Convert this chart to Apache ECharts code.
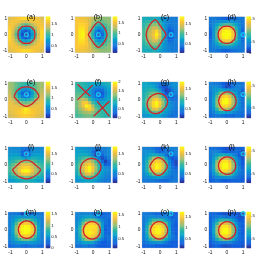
<!DOCTYPE html>
<html><head><meta charset="utf-8">
<style>html,body{margin:0;padding:0;background:#fff}#c{width:257px;height:263px;filter:blur(0.55px)}</style>
<script src="https://cdn.jsdelivr.net/npm/echarts@6/dist/echarts.min.js"></script>
</head><body><div id="c"></div>
<script>
const panelLabels=['(a)','(b)','(c)','(d)','(e)','(f)','(g)','(h)','(i)','(j)','(k)','(l)','(m)','(n)','(o)','(p)'];
const tickValues=[-1,0,1];
const colorRanges=[[.2,1.85],[.08,1.77],[.03,1.85],[0,1.6],[.1,1.75],[0,2],[.05,1.85],[.03,1.7],[.05,1.85],[.05,1.85],[.05,1.85],[.1,1.7],[0,1.6],[.1,1.64],[.08,1.74],[.1,1.68]];
const colorTicks=[[.5,1,1.5],[.5,1,1.5],[.5,1,1.5],[0,.5,1,1.5],[.5,1,1.5],[0,.5,1,1.5,2],[.5,1,1.5],[.5,1,1.5],[.5,1,1.5],[.5,1,1.5],[.5,1,1.5],[.5,1,1.5],[0,.5,1,1.5],[.5,1,1.5],[.5,1,1.5],[.5,1,1.5]];
const markers=[[0,0],[.33,0],[.67,0],[1,0],[0,.33],[.33,.33],[.67,.33],[1,.33],[0,.67],[.33,.67],[.67,.67],[1,.67],[0,1],[.33,1],[.67,1],[1,1]];

const fieldA=[[1.5,1.55,1.6,1.65,1.7,1.7,1.7,1.65,1.6,1.55,1.5],[1.55,1.6,1.6,1.55,1.5,1.45,1.5,1.55,1.6,1.6,1.55],[1.6,1.6,1.5,1.35,1.2,1.1,1.2,1.35,1.5,1.6,1.6],[1.65,1.55,1.35,1.1,.85,.75,.85,1.1,1.35,1.55,1.65],[1.7,1.5,1.2,.85,.5,.35,.5,.85,1.2,1.5,1.7],[1.7,1.45,1.1,.75,.35,.2,.35,.75,1.1,1.45,1.7],[1.7,1.5,1.2,.85,.5,.35,.5,.85,1.2,1.5,1.7],[1.65,1.55,1.35,1.1,.85,.75,.85,1.1,1.35,1.55,1.65],[1.6,1.6,1.5,1.35,1.2,1.1,1.2,1.35,1.5,1.6,1.6],[1.55,1.6,1.6,1.55,1.5,1.45,1.5,1.55,1.6,1.6,1.55],[1.5,1.55,1.6,1.65,1.7,1.7,1.7,1.65,1.6,1.55,1.5]];
const fieldB=[[1.5,1.5,1.5,1.45,1.4,1.3,1.25,1.2,1.15,1.15,1.15],[1.55,1.55,1.55,1.5,1.4,1.25,1.1,1.05,1.05,1.1,1.15],[1.55,1.6,1.6,1.55,1.4,1.15,.95,.85,.9,1,1.1],[1.55,1.65,1.65,1.55,1.3,1.05,.75,.6,.7,.9,1.05],[1.55,1.7,1.72,1.55,1.25,.9,.5,.3,.5,.8,1.05],[1.55,1.7,1.77,1.55,1.2,.85,.35,.12,.35,.75,1.05],[1.55,1.7,1.72,1.55,1.25,.9,.5,.3,.5,.8,1.05],[1.55,1.65,1.65,1.55,1.3,1.05,.75,.6,.7,.9,1.05],[1.55,1.6,1.6,1.55,1.4,1.15,.95,.85,.9,1,1.1],[1.55,1.55,1.55,1.5,1.4,1.25,1.1,1.05,1.05,1.1,1.15],[1.5,1.5,1.5,1.45,1.4,1.3,1.25,1.2,1.15,1.15,1.15]];
const fieldC=[[.8,.8,.8,.85,.8,.7,.6,.55,.5,.45,.45],[.85,.9,.95,1,1,.85,.65,.55,.5,.45,.45],[.9,1,1.1,1.2,1.2,1,.7,.55,.45,.45,.45],[.95,1.1,1.25,1.4,1.4,1.2,.8,.55,.35,.4,.45],[1,1.15,1.35,1.5,1.7,1.4,.95,.5,.25,.3,.45],[1,1.15,1.4,1.55,1.8,1.5,1,.5,.1,.25,.45],[1,1.15,1.35,1.5,1.7,1.4,.95,.5,.25,.3,.45],[.95,1.1,1.25,1.4,1.4,1.2,.8,.55,.35,.4,.45],[.9,1,1.1,1.2,1.2,1,.7,.55,.45,.45,.45],[.85,.9,.95,1,1,.85,.65,.55,.5,.45,.45],[.8,.8,.8,.85,.8,.7,.6,.55,.5,.45,.45]];
const fieldD=[[.35,.35,.33,.3,.25,.22,.25,.3,.33,.35,.35],[.35,.4,.45,.5,.5,.5,.5,.5,.45,.4,.35],[.35,.45,.6,.75,.85,.9,.85,.75,.6,.45,.35],[.3,.5,.75,1.1,1.35,1.4,1.35,1.1,.75,.5,.3],[.25,.5,.85,1.35,1.55,1.6,1.55,1.35,.85,.5,.25],[.22,.5,.9,1.4,1.6,1.6,1.6,1.4,.9,.5,.2],[.25,.5,.85,1.35,1.55,1.6,1.55,1.35,.85,.5,.25],[.3,.5,.75,1.1,1.35,1.4,1.35,1.1,.75,.5,.3],[.35,.45,.6,.75,.85,.9,.85,.75,.6,.45,.35],[.35,.4,.45,.5,.5,.5,.5,.5,.45,.4,.35],[.35,.35,.33,.3,.25,.22,.25,.3,.33,.35,.35]];
const fieldE=[[1.2,1.15,1.05,1,.95,.9,.95,1,1.05,1.15,1.2],[1.2,1.15,1.05,.95,.85,.8,.85,.95,1.05,1.15,1.2],[1.25,1.15,1,.8,.6,.5,.6,.8,1,1.15,1.25],[1.3,1.15,.95,.65,.35,.15,.35,.65,.95,1.15,1.3],[1.35,1.2,1,.75,.5,.35,.5,.75,1,1.2,1.35],[1.4,1.3,1.15,.95,.85,.8,.85,.95,1.15,1.3,1.4],[1.45,1.4,1.3,1.2,1.1,1.05,1.1,1.2,1.3,1.4,1.45],[1.45,1.45,1.45,1.4,1.35,1.35,1.35,1.4,1.45,1.45,1.45],[1.45,1.45,1.5,1.5,1.6,1.7,1.6,1.5,1.5,1.45,1.45],[1.4,1.45,1.5,1.55,1.6,1.65,1.6,1.55,1.5,1.45,1.4],[1.35,1.4,1.45,1.5,1.55,1.55,1.55,1.5,1.45,1.4,1.35]];
const fieldF=[[1,1,.95,.9,.85,.8,.75,.75,.8,.85,.9],[1,1,.95,.9,.8,.7,.6,.55,.6,.7,.8],[1.05,1,1,.9,.75,.55,.4,.35,.4,.6,.75],[1.1,1.1,1.05,.95,.75,.5,.25,.12,.25,.5,.7],[1.15,1.2,1.15,1.05,.85,.6,.4,.25,.35,.6,.75],[1.2,1.35,1.45,1.35,1.05,.8,.65,.55,.6,.7,.8],[1.2,1.4,1.7,1.75,1.45,1.05,.85,.8,.8,.85,.9],[1.2,1.4,1.65,1.95,1.85,1.4,1.05,.95,.95,.95,.95],[1.15,1.3,1.45,1.65,1.8,1.55,1.2,1.05,1,1,1],[1.1,1.2,1.3,1.35,1.4,1.3,1.15,1.05,1,1,1],[1.05,1.1,1.15,1.2,1.2,1.15,1.1,1.05,1,.95,.95]];
const fieldG=[[.75,.75,.7,.65,.55,.45,.4,.45,.55,.6,.6],[.75,.8,.8,.75,.6,.4,.25,.25,.45,.55,.6],[.8,.85,.9,.9,.8,.6,.35,.15,.25,.45,.55],[.85,.95,1.05,1.1,1.1,.95,.6,.25,.1,.3,.5],[.85,1,1.2,1.35,1.35,1.2,.9,.5,.25,.25,.4],[.9,1.1,1.3,1.55,1.65,1.45,1.15,.8,.5,.4,.4],[.9,1.1,1.4,1.7,1.85,1.65,1.25,.9,.65,.5,.45],[.85,1.05,1.35,1.7,1.8,1.6,1.2,.85,.65,.55,.45],[.8,.95,1.2,1.45,1.5,1.3,1,.75,.6,.5,.45],[.7,.8,.95,1.05,1.1,1,.8,.65,.55,.45,.4],[.6,.65,.7,.75,.75,.7,.6,.55,.45,.4,.4]];
const fieldH=[[.45,.4,.4,.35,.25,.2,.25,.35,.4,.4,.4],[.45,.5,.5,.45,.3,.15,.2,.35,.45,.45,.4],[.45,.55,.6,.7,.65,.6,.55,.5,.5,.45,.3],[.4,.55,.75,1,1.15,1.15,1,.8,.6,.4,.1],[.4,.6,.95,1.3,1.5,1.55,1.4,1.05,.7,.45,.25],[.4,.65,1.05,1.45,1.65,1.7,1.55,1.2,.8,.5,.35],[.4,.65,1.1,1.5,1.7,1.7,1.55,1.2,.8,.5,.35],[.4,.65,1.05,1.4,1.55,1.55,1.4,1.1,.7,.5,.35],[.4,.55,.85,1.1,1.2,1.2,1.05,.8,.6,.45,.4],[.35,.45,.6,.7,.7,.65,.6,.5,.45,.4,.35],[.3,.35,.4,.4,.35,.3,.3,.3,.35,.35,.3]];
const fieldI=[[.55,.55,.55,.55,.45,.4,.45,.55,.55,.55,.55],[.6,.6,.6,.55,.35,.2,.35,.55,.6,.6,.6],[.65,.7,.7,.65,.35,.1,.35,.65,.7,.7,.65],[.75,.8,.85,.85,.75,.6,.75,.85,.85,.8,.75],[.85,.9,1,1.1,1.15,1.15,1.15,1.1,1,.9,.85],[.95,1.05,1.2,1.35,1.5,1.5,1.5,1.35,1.2,1.05,.95],[1,1.15,1.3,1.5,1.65,1.7,1.65,1.5,1.3,1.15,1],[1,1.15,1.35,1.55,1.8,1.85,1.8,1.55,1.35,1.15,1],[.9,1.05,1.2,1.4,1.55,1.6,1.55,1.4,1.2,1.05,.9],[.8,.85,.95,1.05,1.1,1.15,1.1,1.05,.95,.85,.8],[.65,.7,.75,.8,.85,.85,.85,.8,.75,.7,.65]];
const fieldJ=[[.65,.65,.6,.6,.55,.5,.45,.45,.5,.5,.55],[.7,.7,.7,.65,.6,.4,.2,.25,.45,.5,.55],[.75,.8,.8,.8,.7,.45,.1,.2,.35,.5,.55],[.8,.9,1,1.05,1.05,.9,.65,.45,.2,.35,.5],[.85,1,1.2,1.35,1.4,1.25,1,.7,.35,.15,.35],[.9,1.1,1.35,1.55,1.65,1.45,1.15,.85,.6,.3,.35],[.9,1.15,1.45,1.7,1.85,1.6,1.25,.9,.7,.55,.5],[.85,1.1,1.4,1.7,1.8,1.55,1.2,.9,.7,.6,.55],[.8,1,1.2,1.45,1.5,1.3,1,.8,.65,.55,.5],[.7,.8,.95,1.05,1.05,.95,.85,.7,.6,.5,.45],[.6,.65,.7,.75,.75,.7,.65,.55,.5,.45,.45]];
const fieldK=[[.5,.5,.5,.45,.35,.3,.35,.45,.55,.5,.5],[.55,.6,.6,.55,.4,.3,.35,.45,.2,.35,.5],[.55,.65,.75,.8,.8,.7,.6,.4,.1,.3,.45],[.6,.75,1,1.25,1.35,1.25,1.05,.7,.4,.25,.3],[.6,.85,1.2,1.5,1.65,1.6,1.35,.95,.55,.3,.2],[.6,.9,1.3,1.65,1.8,1.75,1.5,1.05,.6,.35,.2],[.6,.9,1.3,1.65,1.85,1.75,1.5,1.05,.65,.4,.3],[.6,.85,1.2,1.5,1.65,1.6,1.3,.9,.6,.45,.4],[.55,.7,.9,1.1,1.2,1.15,.95,.7,.55,.45,.45],[.5,.55,.6,.65,.7,.7,.6,.5,.45,.4,.45],[.45,.45,.45,.45,.4,.35,.35,.35,.4,.45,.45]];
const fieldL=[[.4,.4,.4,.35,.3,.25,.25,.3,.35,.35,.35],[.45,.5,.5,.45,.35,.3,.3,.35,.4,.35,.2],[.45,.55,.65,.75,.8,.75,.7,.55,.45,.3,.1],[.45,.65,.9,1.15,1.3,1.3,1.15,.9,.6,.4,.25],[.45,.7,1.1,1.45,1.6,1.6,1.45,1.1,.7,.45,.3],[.45,.75,1.2,1.55,1.7,1.7,1.55,1.2,.75,.45,.3],[.45,.75,1.2,1.55,1.7,1.7,1.55,1.2,.75,.5,.35],[.45,.7,1.05,1.4,1.55,1.55,1.4,1.05,.7,.5,.4],[.4,.6,.8,1,1.1,1.1,1,.8,.6,.45,.4],[.35,.45,.55,.6,.6,.6,.6,.55,.45,.4,.35],[.3,.35,.4,.35,.3,.3,.3,.35,.35,.35,.3]];
const fieldM=[[.35,.35,.35,.3,.1,0,.1,.3,.35,.35,.35],[.4,.45,.5,.55,.5,.45,.5,.55,.5,.45,.4],[.4,.5,.65,.8,.9,.9,.9,.8,.65,.5,.4],[.4,.55,.85,1.15,1.35,1.4,1.35,1.15,.85,.55,.4],[.4,.6,1,1.4,1.55,1.6,1.55,1.4,1,.6,.4],[.4,.6,1.05,1.45,1.6,1.6,1.6,1.45,1.05,.6,.4],[.4,.6,1,1.4,1.55,1.6,1.55,1.4,1,.6,.4],[.4,.55,.85,1.15,1.35,1.4,1.35,1.15,.85,.55,.4],[.4,.5,.7,.85,.95,.95,.95,.85,.7,.5,.4],[.35,.45,.5,.55,.55,.55,.55,.55,.5,.45,.35],[.25,.3,.35,.35,.3,.25,.3,.35,.35,.3,.25]];
const fieldN=[[.5,.5,.5,.5,.5,.45,.3,.1,.3,.35,.35],[.5,.55,.6,.65,.65,.6,.5,.4,.4,.4,.4],[.5,.6,.8,.95,1,1,.9,.7,.5,.4,.35],[.55,.7,1,1.3,1.45,1.45,1.3,1,.6,.4,.35],[.55,.8,1.2,1.5,1.55,1.55,1.5,1.15,.65,.35,.35],[.6,.85,1.3,1.55,1.55,1.5,1.5,1.15,.65,.3,.35],[.55,.85,1.3,1.55,1.6,1.55,1.45,1.1,.65,.35,.35],[.55,.8,1.15,1.45,1.5,1.45,1.3,.95,.6,.4,.4],[.55,.7,.95,1.1,1.15,1.05,.9,.65,.45,.35,.4],[.5,.55,.65,.7,.7,.65,.5,.4,.3,.3,.35],[.4,.4,.45,.45,.4,.4,.35,.3,.3,.3,.3]];
const fieldO=[[.45,.45,.45,.4,.35,.35,.4,.45,.4,.15,.3],[.45,.5,.55,.55,.5,.5,.5,.5,.4,.3,.35],[.45,.55,.75,.95,.95,.95,.85,.7,.5,.4,.35],[.45,.65,.95,1.3,1.45,1.45,1.3,1,.65,.4,.3],[.45,.75,1.2,1.55,1.65,1.65,1.5,1.15,.7,.35,.3],[.45,.8,1.25,1.6,1.7,1.7,1.6,1.25,.75,.35,.3],[.45,.8,1.25,1.6,1.7,1.7,1.55,1.2,.75,.4,.3],[.45,.7,1.1,1.4,1.55,1.55,1.4,1.05,.65,.45,.35],[.45,.6,.85,1,1.1,1.1,.95,.75,.55,.4,.35],[.4,.45,.55,.6,.6,.6,.55,.45,.35,.3,.3],[.3,.35,.35,.35,.3,.3,.3,.3,.3,.3,.3]];
const fieldP=[[.35,.35,.35,.3,.25,.25,.25,.3,.3,.25,.1],[.35,.4,.45,.5,.45,.4,.4,.4,.35,.25,.25],[.35,.5,.65,.85,.9,.9,.8,.65,.45,.3,.3],[.35,.6,.9,1.2,1.35,1.35,1.2,.9,.6,.4,.35],[.35,.65,1.1,1.45,1.6,1.6,1.45,1.1,.7,.4,.3],[.35,.7,1.15,1.55,1.68,1.68,1.55,1.15,.7,.4,.3],[.35,.7,1.15,1.55,1.68,1.68,1.55,1.15,.7,.4,.3],[.35,.6,1,1.35,1.5,1.5,1.35,1,.65,.4,.35],[.35,.5,.75,.95,1.05,1.05,.95,.75,.5,.4,.35],[.3,.4,.45,.5,.5,.5,.5,.45,.4,.35,.3],[.25,.3,.35,.3,.25,.25,.25,.3,.3,.3,.25]];
const fields=[fieldA,fieldB,fieldC,fieldD,fieldE,fieldF,fieldG,fieldH,fieldI,fieldJ,fieldK,fieldL,fieldM,fieldN,fieldO,fieldP];

const gap=['-','-'];
const contourA=[[.53,0],[.5,.24],[.38,.38],[.24,.5],[0,.53],[-.24,.5],[-.38,.38],[-.5,.24],[-.53,0],[-.5,-.24],[-.38,-.38],[-.24,-.5],[0,-.53],[.24,-.5],[.38,-.38],[.5,-.24],[.53,0]];
const contourB=[[-.3,0],[-.1,.3],[.1,.58],[.33,.78],[.56,.6],[.75,.33],[.86,0],[.75,-.33],[.56,-.6],[.33,-.78],[.1,-.58],[-.1,-.3],[-.3,0]];
const contourC=[[-.84,0],[-.78,.3],[-.55,.7],[-.28,.9],[-.05,.65],[.15,.35],[.37,0],[.15,-.35],[-.05,-.65],[-.28,-.9],[-.55,-.7],[-.78,-.3],[-.84,0]];
const contourD=[[.53,0],[.48,.24],[.37,.38],[.22,.49],[0,.53],[-.22,.49],[-.37,.38],[-.48,.24],[-.53,0],[-.48,-.24],[-.37,-.38],[-.22,-.49],[0,-.53],[.22,-.49],[.37,-.38],[.48,-.24],[.53,0]];
const contourE=[[-.78,.2],[-.6,.55],[-.3,.75],[0,.8],[.3,.75],[.6,.55],[.78,.2],[.55,-.05],[.3,-.28],[0,-.39],[-.3,-.28],[-.55,-.05],[-.78,.2]];
const contourF=[[-.95,.95],[-.16,.22],gap,[-.95,0],[-.02,.9],gap,[.25,-.08],[1,-1],gap,[.04,-1],[1,-.08]];
const contourG=[[-.79,-.25],[-.7,.05],[-.45,.28],[-.1,.4],[.2,.32],[.42,.08],[.46,-.15],[.35,-.45],[.1,-.7],[-.2,-.83],[-.5,-.78],[-.72,-.55],[-.79,-.25]];
const contourH=[[-.5,-.08],[-.42,.2],[-.2,.42],[.03,.49],[.3,.42],[.5,.2],[.57,-.08],[.5,-.35],[.3,-.58],[.03,-.65],[-.22,-.58],[-.42,-.35],[-.5,-.08]];
const contourI=[[-.88,-.3],[-.6,-.05],[-.3,.2],[0,.29],[.3,.2],[.6,-.05],[.88,-.3],[.65,-.6],[.3,-.8],[0,-.86],[-.3,-.8],[-.65,-.6],[-.88,-.3]];
const contourJ=[[-.78,-.28],[-.68,.05],[-.45,.28],[-.1,.39],[.2,.32],[.42,.1],[.49,-.15],[.38,-.45],[.12,-.72],[-.2,-.85],[-.5,-.8],[-.72,-.58],[-.78,-.28]];
const contourK=[[-.63,-.11],[-.5,.15],[-.3,.35],[-.08,.43],[.12,.35],[.33,.15],[.45,-.11],[.33,-.35],[.12,-.57],[-.1,-.65],[-.3,-.57],[-.5,-.35],[-.63,-.11]];
const contourL=[[-.51,-.05],[-.44,.22],[-.22,.42],[.02,.49],[.28,.42],[.48,.22],[.55,-.05],[.48,-.32],[.28,-.52],[.02,-.59],[-.22,-.52],[-.44,-.32],[-.51,-.05]];
const contourM=[[-.51,.02],[-.44,.28],[-.24,.48],[.02,.55],[.28,.48],[.48,.28],[.55,.02],[.48,-.24],[.28,-.44],[.02,-.51],[-.24,-.44],[-.44,-.24],[-.51,.02]];
const contourN=[[-.6,-.02],[-.52,.24],[-.32,.44],[-.07,.51],[.2,.44],[.38,.24],[.45,-.02],[.38,-.28],[.2,-.48],[-.07,-.55],[-.32,-.48],[-.52,-.28],[-.6,-.02]];
const contourO=[[-.59,-.02],[-.5,.24],[-.3,.44],[-.06,.51],[.2,.44],[.4,.24],[.47,-.02],[.4,-.28],[.2,-.48],[-.06,-.55],[-.3,-.48],[-.5,-.28],[-.59,-.02]];
const contourP=[[-.5,-.02],[-.44,.24],[-.22,.44],[.02,.51],[.28,.44],[.48,.24],[.55,-.02],[.48,-.28],[.28,-.48],[.02,-.55],[-.22,-.48],[-.44,-.28],[-.5,-.02]];
const contours=[contourA,contourB,contourC,contourD,contourE,contourF,contourG,contourH,contourI,contourJ,contourK,contourL,contourM,contourN,contourO,contourP];

const parula=['#352a87','#0f5cdd','#1481d6','#06a4ca','#2eb7a4','#87bf77','#d1bb59','#fec832','#f9fb0e'];
const colX=[26,93,160,226.8], rowY=[34.7,99.9,164.8,230];
const gridHalf=17.6, axisHalf=16.4, barLeft=20, barWidth=4, barHalf=18, barLevels=40;
const font='"Liberation Sans",Arial,sans-serif', textColor='#111';
const cats=n=>Array.from({length:n},(_,i)=>i);
const hidden=(type,extra)=>Object.assign({type,show:false},extra);
const grid=[],xAxis=[],yAxis=[],series=[],visualMap=[],title=[];
function addGrid(left,top,w,h,x,y,extra){
  const i=grid.length;
  grid.push(Object.assign({left,top,width:w,height:h,containLabel:false},extra||{}));
  xAxis.push(Object.assign({gridIndex:i},x));yAxis.push(Object.assign({gridIndex:i},y));
  return i;
}
panelLabels.forEach((label,p)=>{
  const cx=colX[p%4], cy=rowY[Math.floor(p/4)], [lo,hi]=colorRanges[p];
  title.push({text:label,left:cx,top:cy-26,textAlign:'center',textStyle:{fontFamily:font,fontSize:7,fontWeight:'normal',color:'#000'}});
  const g=addGrid(cx-gridHalf,cy-gridHalf,2*gridHalf,2*gridHalf,
    hidden('category',{data:cats(11)}),hidden('category',{data:cats(11)}),
    {show:true,borderColor:'#d0d0d0',borderWidth:1.4,backgroundColor:'#fff'});
  const heat=[];
  fields[p].forEach((row,r)=>row.forEach((v,c)=>heat.push([c,10-r,v])));
  const hs=series.length;
  series.push({type:'heatmap',xAxisIndex:g,yAxisIndex:g,data:heat,progressive:0,animation:false,emphasis:{disabled:true},z:1});
  const axisCommon={type:'value',min:-1,max:1,interval:1,splitLine:{show:false},axisLine:{show:false},axisTick:{show:false}};
  const labelStyle={fontFamily:font,fontSize:4.8,color:textColor};
  const o=addGrid(cx-axisHalf,cy-axisHalf,2*axisHalf,2*axisHalf,
    Object.assign({},axisCommon,{axisLabel:Object.assign({margin:3.5},labelStyle)}),
    Object.assign({},axisCommon,{axisLabel:Object.assign({margin:3.2},labelStyle)}));
  series.push({type:'line',xAxisIndex:o,yAxisIndex:o,data:contours[p],smooth:p===5?false:0.35,connectNulls:false,symbol:'none',clip:false,animation:false,silent:true,z:3,lineStyle:{color:'#d21f2a',width:1.25}});
  series.push({type:'scatter',xAxisIndex:o,yAxisIndex:o,data:[markers[p]],symbol:'circle',symbolSize:4,clip:false,animation:false,silent:true,z:4,itemStyle:{color:'rgba(120,220,240,0.3)',borderColor:'#0cd4fa',borderWidth:1.3}});
  const b=addGrid(cx+barLeft,cy-barHalf,barWidth,2*barHalf,
    hidden('category',{data:[0]}),hidden('category',{data:cats(barLevels)}));
  const ramp=cats(barLevels).map(i=>[0,i,lo+(hi-lo)*(i+.5)/barLevels]);
  const bs=series.length;
  series.push({type:'heatmap',xAxisIndex:b,yAxisIndex:b,data:ramp,progressive:0,animation:false,emphasis:{disabled:true},z:1});
  const a=addGrid(cx+barLeft,cy-barHalf,barWidth,2*barHalf,
    hidden('value',{min:0,max:1}),
    {type:'value',position:'right',min:lo,max:hi,splitLine:{show:false},axisLine:{show:false},axisTick:{show:false},
     axisLabel:Object.assign({margin:1.2,customValues:colorTicks[p]},labelStyle,{fontSize:4.2})});
  visualMap.push({show:false,type:'continuous',min:lo,max:hi,seriesIndex:[hs,bs],dimension:2,inRange:{color:parula}});
});
const chart=echarts.init(document.getElementById('c'),null,{renderer:'canvas',width:257,height:263});
chart.setOption({animation:false,backgroundColor:'#fff',title,grid,xAxis,yAxis,series,visualMap,tooltip:{show:false}});
</script></body></html>
